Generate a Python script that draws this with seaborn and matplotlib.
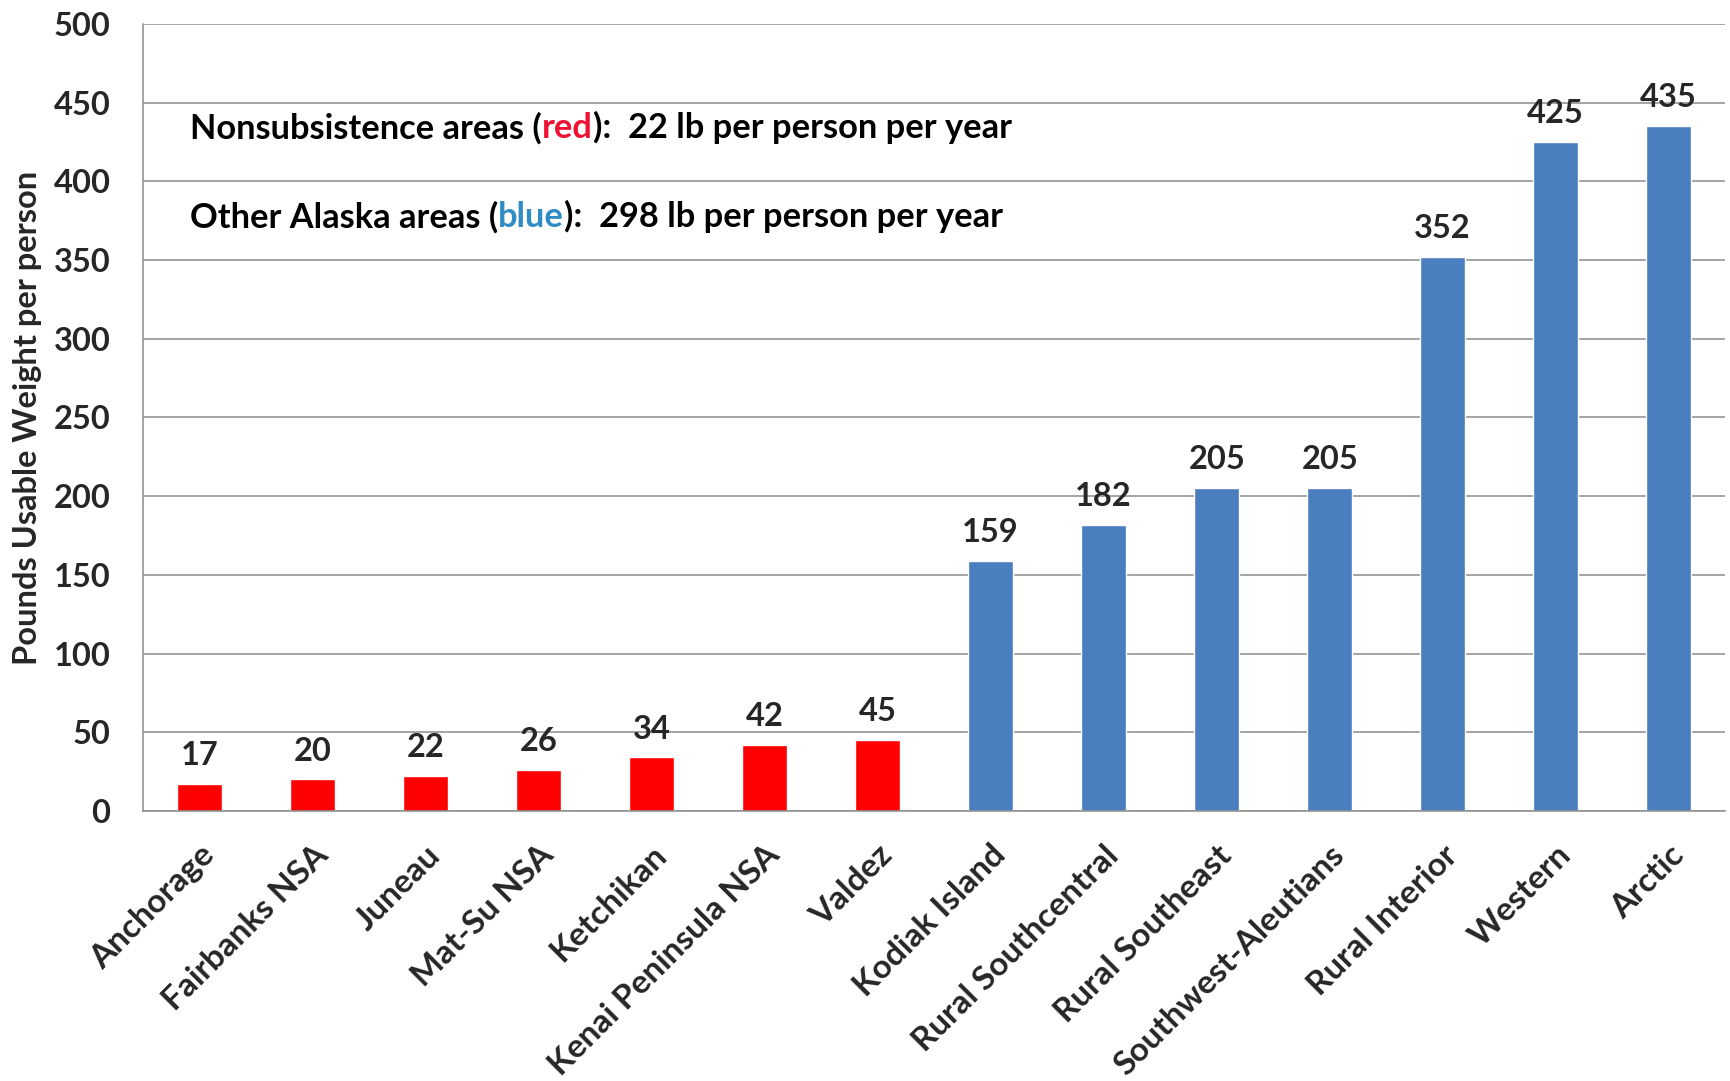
import matplotlib
matplotlib.use("Agg")
import matplotlib.pyplot as plt
import seaborn as sns
import pandas as pd
from matplotlib.ticker import FixedLocator

areas = ["Anchorage", "Fairbanks NSA", "Juneau", "Mat-Su NSA", "Ketchikan",
         "Kenai Peninsula NSA", "Valdez", "Kodiak Island", "Rural Southcentral",
         "Rural Southeast", "Southwest-Aleutians", "Rural Interior", "Western", "Arctic"]
pounds = [17, 20, 22, 26, 34, 42, 45, 159, 182, 205, 205, 352, 425, 435]
groups = ["Nonsubsistence"] * 7 + ["Other"] * 7
y_ticks = [0, 50, 100, 150, 200, 250, 300, 350, 400, 450, 500]

RED = "#FF0000"
BLUE = "#4A7EBF"
GRID = "#8C8C8C"

sns.set_style("white")
plt.rcParams["font.family"] = ["Lato", "DejaVu Sans"]
plt.rcParams["font.weight"] = "bold"

df = pd.DataFrame({"area": areas, "pounds": pounds, "group": groups})

fig = plt.figure(figsize=(17.3, 10.81), dpi=100)
ax = fig.add_axes([0.0827, 0.2498, 0.9145, 0.728])

sns.barplot(data=df, x="area", y="pounds", hue="group",
            palette={"Nonsubsistence": RED, "Other": BLUE},
            dodge=False, width=0.4, legend=False, saturation=1, ax=ax)

for cont in ax.containers:
    ax.bar_label(cont, fmt="%d", padding=10, fontsize=23.5, fontweight="bold")

ax.set_xlim(-0.5, len(areas) - 0.5)
ax.set_ylim(0, 500)
ax.set_yticks(y_ticks)
ax.yaxis.grid(True, color=GRID, linewidth=1.1)
ax.set_axisbelow(True)

for s in ["top", "right"]:
    ax.spines[s].set_visible(False)
for s in ["left", "bottom"]:
    ax.spines[s].set_color(GRID)
    ax.spines[s].set_linewidth(1.1)

ax.tick_params(axis="y", length=9.5, width=1.1, color=GRID, pad=14, labelsize=23.5)
ax.tick_params(axis="x", which="major", length=0, pad=21, labelsize=24)
ax.xaxis.set_minor_locator(FixedLocator([i - 0.5 for i in range(len(areas) + 1)]))
ax.tick_params(axis="x", which="minor", length=9.5, width=1.1, color=GRID)
plt.setp(ax.get_xticklabels(), rotation=45, ha="right", va="top",
         rotation_mode="anchor", fontweight="bold")
plt.setp(ax.get_yticklabels(), fontweight="bold")

ax.set_xlabel("")
ax.set_ylabel("Pounds Usable Weight per person", fontsize=23.5, fontweight="bold")
ax.yaxis.set_label_coords(-0.064, 0.5)

# two-colour annotation lines
def colour_line(y, parts):
    prev = None
    for txt, col in parts:
        if prev is None:
            prev = ax.text(0.0297, y, txt, transform=ax.transAxes, color=col,
                           fontsize=24.75, fontweight="bold", va="center", ha="left")
        else:
            prev = ax.annotate(txt, xy=(1, 0), xycoords=prev, color=col,
                               fontsize=24.75, fontweight="bold", va="bottom", ha="left")

colour_line(0.868, [("Nonsubsistence areas (", "black"), ("red", "#EE1133"),
                    ("):  22 lb per person per year", "black")])
colour_line(0.755, [("Other Alaska areas (", "black"), ("blue", "#2F8CC4"),
                    ("):  298 lb per person per year", "black")])

fig.savefig("out.png", dpi=100)
